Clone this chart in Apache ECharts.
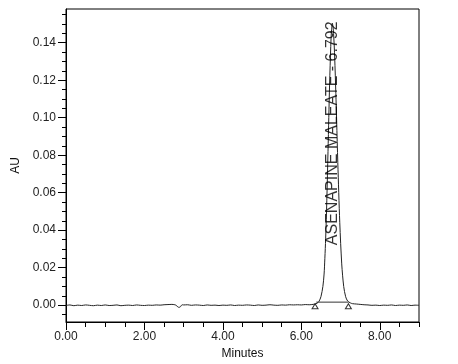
<!DOCTYPE html>
<html>
<head>
<meta charset="utf-8">
<script src="https://cdn.jsdelivr.net/npm/echarts@6/dist/echarts.min.js"></script>
<style>html,body{margin:0;padding:0;background:#fff;}#c{width:458px;height:364px;}</style>
</head>
<body>
<div id="c"></div>
<script>
// Chromatogram trace: [minutes, AU]
var trace = [
[0.0,-0.0002],[0.1,0.0001],[0.2,-0.0003],[0.3,0.0000],[0.4,-0.0002],[0.5,0.0001],[0.6,-0.0001],[0.7,-0.0003],[0.8,0.0000],[0.9,-0.0002],
[1.0,0.0001],[1.1,-0.0002],[1.2,-0.0001],[1.3,0.0001],[1.4,-0.0003],[1.5,-0.0001],[1.6,0.0000],[1.7,-0.0002],[1.8,0.0001],[1.9,-0.0001],
[2.0,-0.0002],[2.1,0.0000],[2.2,-0.0001],[2.3,0.0001],[2.4,0.0000],[2.5,0.0002],[2.6,0.0003],[2.7,0.0004],[2.75,0.0003],[2.8,0.0000],
[2.85,-0.0009],[2.88,-0.0012],[2.92,-0.0008],[2.96,0.0002],[3.0,0.0001],[3.1,0.0002],[3.2,-0.0001],[3.3,0.0001],[3.4,0.0000],[3.5,-0.0002],
[3.6,0.0001],[3.7,-0.0001],[3.8,0.0000],[3.9,-0.0002],[4.0,0.0000],[4.1,-0.0001],[4.2,0.0001],[4.3,-0.0002],[4.4,0.0000],[4.5,-0.0001],
[4.6,0.0001],[4.7,0.0000],[4.8,-0.0002],[4.9,0.0001],[5.0,-0.0001],[5.1,0.0000],[5.2,0.0002],[5.3,0.0000],[5.4,-0.0001],[5.5,0.0001],
[5.6,0.0000],[5.7,0.0002],[5.8,0.0001],[5.9,0.0002],[6.0,0.0001],[6.1,0.0003],[6.2,0.0002],[6.3,0.0004],[6.35,0.0006],[6.40,0.0010],
[6.45,0.0020],[6.50,0.0045],[6.55,0.0100],[6.58,0.0166],[6.60,0.0250],[6.62,0.0354],[6.65,0.0560],[6.68,0.0819],[6.70,0.1000],[6.72,0.1174],
[6.75,0.1380],[6.77,0.1470],[6.79,0.1505],[6.81,0.1479],[6.83,0.1420],[6.85,0.1324],[6.88,0.1130],[6.90,0.0986],[6.93,0.0760],[6.98,0.0440],
[7.03,0.0220],[7.08,0.0100],[7.13,0.0045],[7.18,0.0022],[7.25,0.0012],[7.3,0.0008],[7.4,0.0006],[7.5,0.0004],[7.6,0.0002],[7.7,0.0001],
[7.8,-0.0001],[7.9,0.0000],[8.0,-0.0002],[8.1,0.0000],[8.2,-0.0001],[8.3,0.0001],[8.4,-0.0002],[8.5,0.0000],[8.6,-0.0001],[8.7,0.0001],
[8.8,-0.0002],[8.9,0.0000],[9.0,-0.0001]
];
// Integration baseline and markers
var integLine = [[6.38,0.0016],[7.20,0.0016]];
var integMarks = [[6.35,-0.0006],[7.20,-0.0006]];
// Peak annotation
var peakLabel = {time: 6.792, y: 0.032, text: 'ASENAPINE MALEATE - 6.792'};
// Ticks
var xMajor = [0,2,4,6,8];
var xMinor = [0.5,1,1.5,2.5,3,3.5,4.5,5,5.5,6.5,7,7.5,8.5,9];
var yMajor = [0,0.02,0.04,0.06,0.08,0.10,0.12,0.14];
var yMinor = [-0.005,0.005,0.01,0.015,0.025,0.03,0.035,0.045,0.05,0.055,0.065,0.07,0.075,0.085,0.09,0.095,0.105,0.11,0.115,0.125,0.13,0.135,0.145,0.15,0.155];

var FONT = 'Liberation Sans, Arial, sans-serif';
var chart = echarts.init(document.getElementById('c'));
chart.setOption({
  animation: false,
  grid: {left: 66, top: 9, right: 39, bottom: 42, outerBoundsMode: 'none', containLabel: false,
         show: true, borderColor: '#000', borderWidth: 1, backgroundColor: 'transparent'},
  xAxis: [
    {type: 'value', min: 0, max: 9, name: 'Minutes', nameLocation: 'middle', nameGap: 26,
     nameTextStyle: {color: '#111', fontSize: 12, fontFamily: FONT},
     axisLine: {show: true, onZero: false, lineStyle: {color: '#000'}},
     axisTick: {show: true, customValues: xMajor, length: 8, lineStyle: {color: '#000'}},
     axisLabel: {show: true, customValues: xMajor, margin: 9, color: '#222', fontSize: 12, fontFamily: FONT,
       formatter: function (v) { return v.toFixed(2); }},
     splitLine: {show: false}},
    {type: 'value', min: 0, max: 9, position: 'bottom',
     axisLine: {show: false, onZero: false},
     axisTick: {show: true, customValues: xMinor, length: 5, lineStyle: {color: '#000'}},
     axisLabel: {show: false}, splitLine: {show: false}}
  ],
  yAxis: [
    {type: 'value', min: -0.009, max: 0.158, name: 'AU', nameLocation: 'middle', nameGap: 41,
     nameTextStyle: {color: '#111', fontSize: 12, fontFamily: FONT},
     axisLine: {show: true, onZero: false, lineStyle: {color: '#000'}},
     axisTick: {show: true, customValues: yMajor, length: 8, lineStyle: {color: '#000'}},
     axisLabel: {show: true, customValues: yMajor, margin: 10, color: '#222', fontSize: 12, fontFamily: FONT,
       formatter: function (v) { return v.toFixed(2); }},
     splitLine: {show: false}},
    {type: 'value', min: -0.009, max: 0.158, position: 'left',
     axisLine: {show: false, onZero: false},
     axisTick: {show: true, customValues: yMinor, length: 4, lineStyle: {color: '#000'}},
     axisLabel: {show: false}, splitLine: {show: false}}
  ],
  series: [
    {type: 'line', data: trace, showSymbol: false, symbol: 'none', smooth: 0.3,
     lineStyle: {color: '#222', width: 1}, xAxisIndex: 0, yAxisIndex: 0, z: 3},
    {type: 'line', data: integLine, showSymbol: false, symbol: 'none',
     lineStyle: {color: '#333', width: 1}, z: 2},
    {type: 'scatter', data: integMarks, symbol: 'triangle', symbolSize: [6, 5],
     itemStyle: {color: '#fff', borderColor: '#000', borderWidth: 1}, z: 4},
    {type: 'scatter', data: [[peakLabel.time, peakLabel.y]], symbolSize: 0, z: 5,
     label: {show: true, position: 'inside', rotate: 90, align: 'left', verticalAlign: 'middle',
       offset: [0, 0], formatter: peakLabel.text, color: '#000', fontSize: 16, fontFamily: FONT}}
  ]
});
</script>
</body>
</html>
